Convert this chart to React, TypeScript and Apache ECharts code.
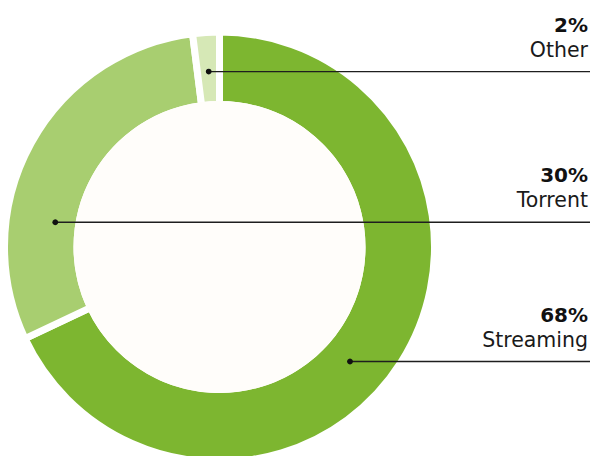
import React, { useEffect, useRef } from "react";
import * as echarts from "echarts";

const categories = ["Streaming", "Torrent", "Other"];
const values = [68, 30, 2];
const percentLabels = ["68%", "30%", "2%"];
const colors = ["#7db630", "#a8ce70", "#d6e8b6"];

// annotation anchors (dot position inside the ring, leader line y)
const anchorX = [350, 55.3, 208.7];
const anchorY = [361.5, 222.3, 71.6];

const CX = 219.5;
const CY = 247;
const LINE_END = 590;

export default function App() {
  const ref = useRef<HTMLDivElement>(null);
  useEffect(() => {
    if (!ref.current) return;
    const chart = echarts.init(ref.current, null, { renderer: "svg" });
    const graphics: any[] = [
      {
        type: "circle",
        shape: { cx: CX, cy: CY, r: 146 },
        style: { fill: "#fffdfa" },
        z: 3,
        silent: true,
      },
    ];
    categories.forEach((name, i) => {
      const y = anchorY[i];
      graphics.push({
        type: "line",
        shape: { x1: anchorX[i], y1: y, x2: LINE_END, y2: y },
        style: { stroke: "#1e1e1e", lineWidth: 1.4 },
        z: 10,
      });
      graphics.push({
        type: "circle",
        shape: { cx: anchorX[i], cy: y, r: 2.9 },
        style: { fill: "#111111" },
        z: 11,
      });
      graphics.push({
        type: "text",
        x: 588,
        y: y - 47,
        style: {
          text: percentLabels[i],
          fill: "#111111",
          font: "bold 20px 'DejaVu Sans'",
          align: "right",
          verticalAlign: "middle",
        },
        z: 11,
      });
      graphics.push({
        type: "text",
        x: 588,
        y: y - 22,
        style: {
          text: name,
          fill: "#1a1a1a",
          font: "20.5px 'DejaVu Sans'",
          align: "right",
          verticalAlign: "middle",
        },
        z: 11,
      });
    });
    chart.setOption({
      animation: false,
      backgroundColor: "#ffffff",
      series: [
        {
          type: "pie",
          center: [CX, CY],
          radius: [142.5, 215],
          startAngle: 90,
          clockwise: true,
          label: { show: false },
          labelLine: { show: false },
          silent: true,
          itemStyle: { borderColor: "#ffffff", borderWidth: 7 },
          data: categories.map((name, i) => ({
            name,
            value: values[i],
            itemStyle: { color: colors[i] },
          })),
          z: 2,
        },
      ],
      graphic: graphics,
    });
    return () => chart.dispose();
  }, []);
  return (
    <div
      ref={ref}
      style={{ position: "absolute", left: 0, top: 0, width: 592, height: 456 }}
    />
  );
}
